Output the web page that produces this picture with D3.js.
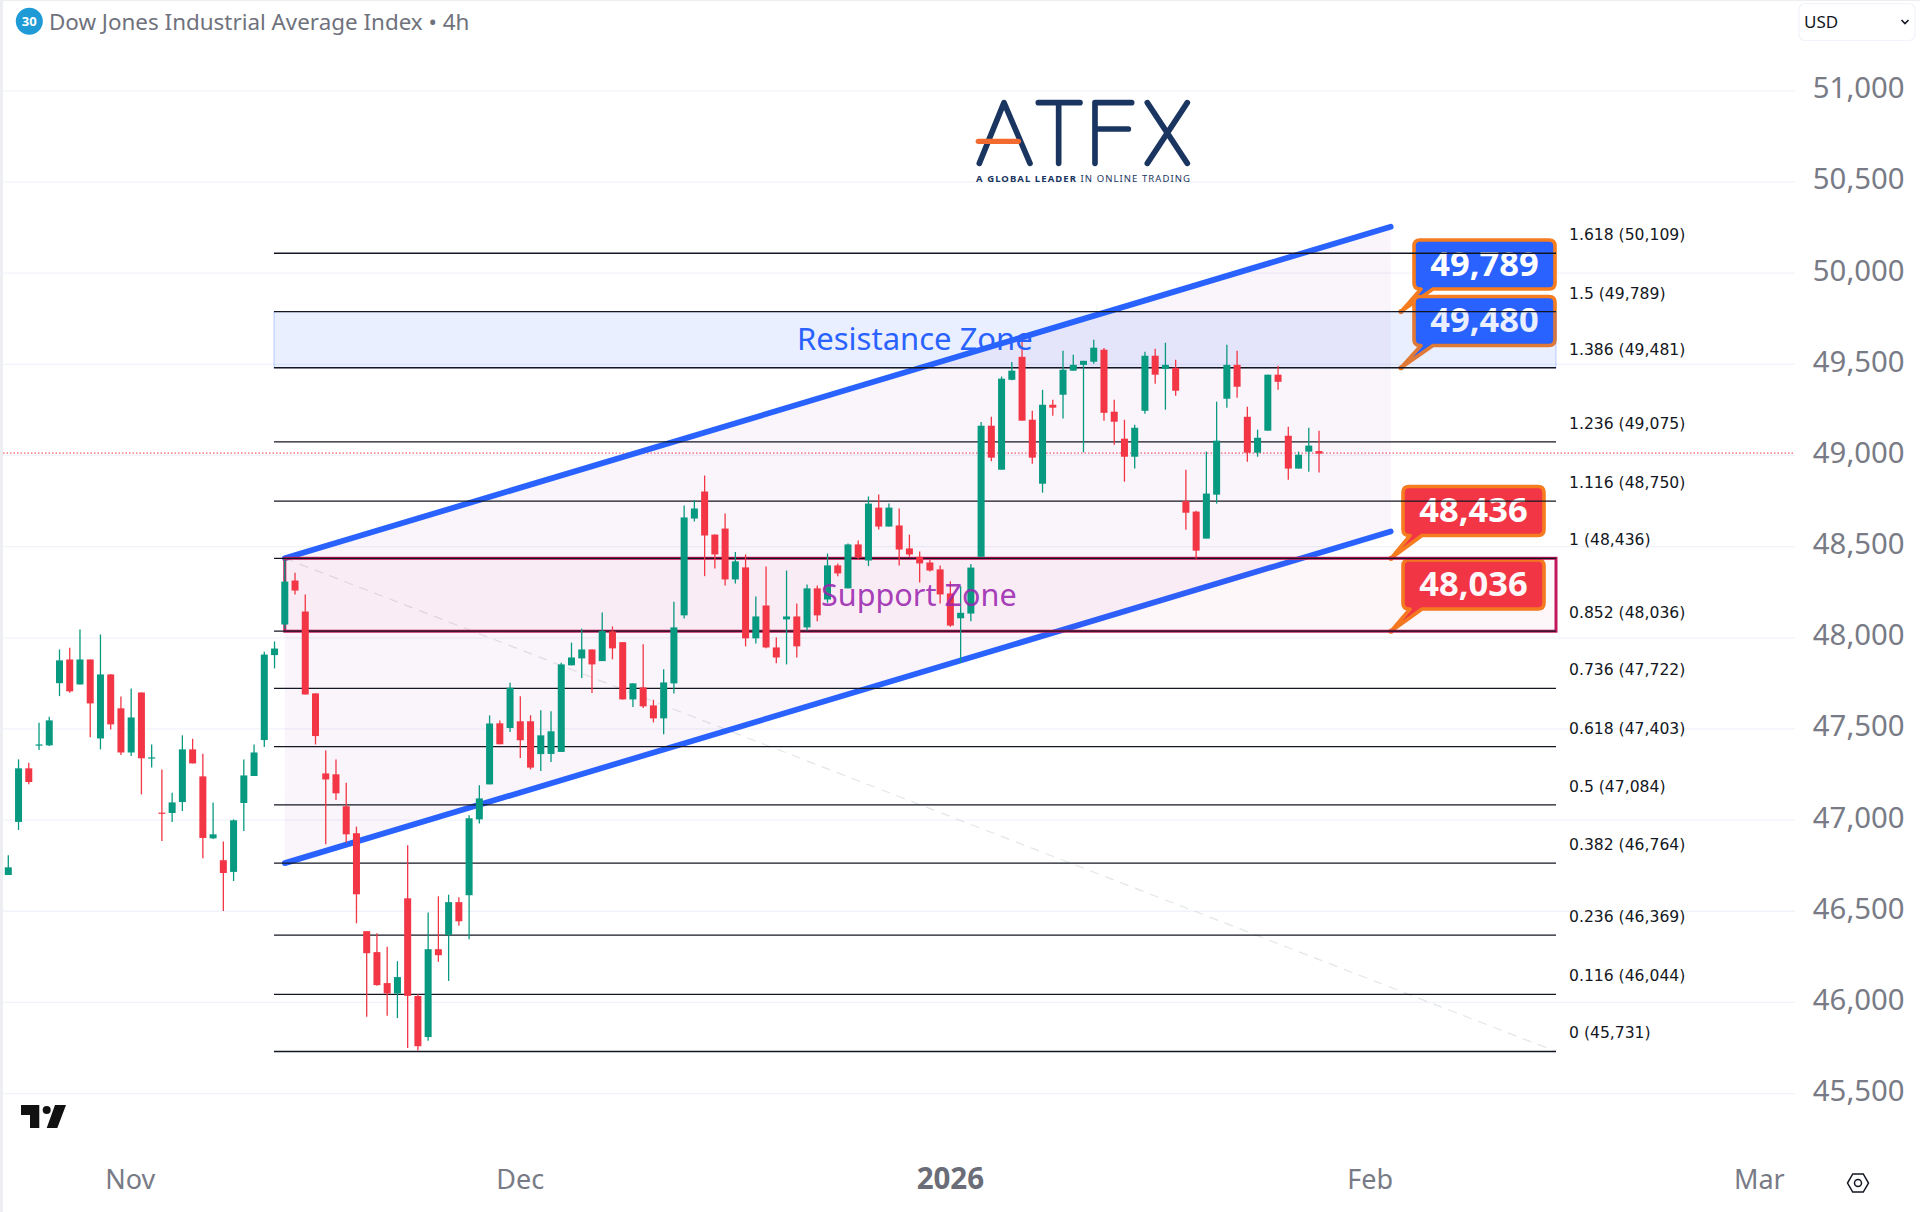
<!DOCTYPE html>
<html>
<head>
<meta charset="utf-8">
<title>Dow Jones Industrial Average Index</title>
<script src="https://cdn.jsdelivr.net/npm/d3@7"></script>
<style>
	html, body { margin: 0; padding: 0; background: #fff; }
	svg { display: block; }
	text { font-family: "Noto Sans", sans-serif; }
</style>
</head>
<body>
<div id="chart"></div>
<script>
var opens = [
	46699,46990,47284,47412,47410,47751,47881,47744,47881,47448,
	47799,47613,47371,47700,47340,47041,47039,47099,47388,47240,
	46900,46780,46716,47094,47242,47439,47905,48073,48314,48144,
	47695,47256,47251,47076,46928,46391,46276,46106,46049,46571,
	46035,45810,46292,46370,46550,46588,47004,47196,47531,47505,
	47542,47542,47362,47363,47374,47849,47887,47936,47872,48035,
	47976,47662,47728,47629,47558,47750,48123,48654,48802,48566,
	48599,48320,48386,47997,48177,47947,48101,48117,48057,48271,
	48210,48397,48271,48512,48424,48714,48610,48616,48490,48444,
	48413,48375,48243,48107,48133,48444,49163,48922,49415,49541,
	49196,48845,49278,49333,49465,49497,49514,49580,49240,49092,
	48993,49245,49547,49475,49481,48750,48692,48544,48785,49311,
	49497,49212,49015,49136,49443,49108,48928,49021,49024
];
var closes = [
	46741,47284,47209,47415,47547,47876,47706,47881,47640,47799,
	47525,47371,47563,47339,47344,47035,47097,47388,47311,46902,
	46922,46710,46999,47245,47371,47908,47941,48308,48259,47689,
	47461,47223,47147,46922,46593,46270,46095,46049,46139,46036,
	45760,46292,46259,46550,46445,47010,47119,47530,47416,47726,
	47438,47288,47465,47487,47854,47892,47936,47854,48037,47942,
	47662,47750,47624,47558,47755,48057,48660,48709,48561,48457,
	48320,48419,47997,48117,47947,47892,48117,47953,48271,48123,
	48397,48353,48512,48440,48736,48610,48714,48484,48457,48408,
	48369,48238,48067,48137,48385,49163,48988,49421,49465,49191,
	48988,49278,49262,49470,49497,49519,49591,49234,49185,48993,
	49152,49547,49443,49497,49355,48686,48478,48791,49081,49497,
	49377,49015,49097,49443,49404,48928,49004,49054,49010
];
var highs = [
	46807,47333,47315,47534,47567,47936,47945,48045,47881,48018,
	47802,47678,47722,47700,47415,47278,47150,47465,47446,47364,
	47097,46882,47004,47333,47415,47923,47980,48429,48356,48237,
	47695,47382,47333,47205,46964,46391,46380,46305,46226,46862,
	46045,46493,46582,46591,46577,47026,47191,47574,47547,47754,
	47679,47575,47602,47597,47863,47973,48050,47936,48139,48062,
	47976,47750,47964,47660,47827,48197,48725,48756,48890,48566,
	48682,48471,48457,48227,48391,48002,48369,48188,48292,48287,
	48462,48408,48517,48534,48775,48786,48736,48709,48566,48473,
	48429,48397,48310,48283,48405,49183,49212,49433,49512,49634,
	49245,49360,49306,49574,49552,49519,49634,49589,49306,49196,
	49169,49569,49585,49618,49525,48922,48697,49021,49295,49607,
	49574,49267,49141,49443,49492,49158,49021,49152,49136
];
var lows = [
	46699,46946,47196,47384,47406,47680,47698,47744,47455,47388,
	47497,47357,47351,47141,47289,46886,46990,47050,47311,46791,
	46897,46502,46666,46940,47242,47401,47832,48050,48237,47689,
	47415,46867,47110,46876,46434,45921,46091,45927,45914,45750,
	45737,45790,46223,46118,46420,46347,46982,47196,47416,47483,
	47341,47278,47269,47319,47374,47849,47779,47697,47872,47882,
	47662,47620,47615,47536,47471,47695,48106,48638,48338,48380,
	48287,48298,47953,47969,47942,47860,47854,47892,48040,48090,
	48192,48338,48271,48429,48393,48594,48610,48397,48444,48303,
	48364,48188,48060,47863,48091,48444,48968,48922,49412,49191,
	48955,48796,49218,49202,49465,49017,49503,49191,49059,48856,
	48928,49229,49393,49251,49328,48593,48434,48544,48736,49262,
	49317,48966,48993,49136,49360,48867,48928,48911,48906
];

var priceTicks = [45500,46000,46500,47000,47500,48000,48500,49000,49500,50000,50500,51000];
var monthLabels = ['Nov','Dec','2026','Feb','Mar'];
var monthBars = [11.9,50,92,133,171];

var fibRatios = ['0','0.116','0.236','0.382','0.5','0.618','0.736','0.852','1','1.116','1.236','1.386','1.5','1.618'];
var fibPrices = [45731,46044,46369,46764,47084,47403,47722,48036,48436,48750,49075,49481,49789,50109];

var calloutPrices = [49789,49481,48436,48036];
var calloutLabels = ['49,789','49,480','48,436','48,036'];

var channelBars = [27,135];
var channelUpper = [48436,50254];
var channelLower = [46764,48583];
var lastPrice = 49013;

var W = 1920, H = 1212;
var UP = '#089981', DOWN = '#f23645', BLUE = '#2962ff', ORANGE = '#f57c1f';
var GRID = '#f0f3fa', AXIS = '#787b86', INK = '#131722';
var FIB_LEFT = 274, RIGHT = 1556, GRID_RIGHT = 1795;

// fitted on two gridlines of the picture
var x = d3.scaleLinear().domain([0,100]).range([8.3,1032.3]);
var y = d3.scaleLinear().domain([45500,51000]).range([1093.6,90.8]);
var fmt = d3.format(',');

var svg = d3.select('#chart').append('svg').attr('width',W).attr('height',H).attr('viewBox','0 0 '+W+' '+H);
svg.append('rect').attr('width',W).attr('height',H).attr('fill','#fff');
svg.append('rect').attr('width',3).attr('height',H).attr('fill','#eceef1');
svg.append('rect').attr('width',W).attr('height',1).attr('fill','#eceef1');

drawGrid();
drawChannel();
drawCallouts();
drawZones();
drawFibs();
drawCandles();
drawZoneText();
drawHeader();
drawLogo();
drawTimeAxis();

function drawGrid() {
	svg.append('g').selectAll('line').data(priceTicks).enter().append('line')
		.attr('x1',3).attr('x2',GRID_RIGHT)
		.attr('y1',function(d) {return y(d)}).attr('y2',function(d) {return y(d)})
		.attr('stroke',GRID).attr('stroke-width',1.3);
	svg.append('g').selectAll('text').data(priceTicks).enter().append('text')
		.attr('x',1904.5).attr('y',function(d) {return y(d)+7.5})
		.attr('text-anchor','end').attr('font-size',29.3).attr('fill',AXIS)
		.text(function(d) {return fmt(d)});
	svg.append('line')
		.attr('x1',3).attr('x2',GRID_RIGHT).attr('y1',y(lastPrice)).attr('y2',y(lastPrice))
		.attr('stroke',DOWN).attr('stroke-width',1).attr('stroke-dasharray','1.5 2');
}

function drawChannel() {
	var area = d3.area()
		.x(function(d) {return x(d.bar)})
		.y0(function(d) {return y(d.low)})
		.y1(function(d) {return y(d.high)});
	var rows = channelBars.map(function(b,i) {
		return {bar:b, low:channelLower[i], high:channelUpper[i]};
	});
	svg.append('path').attr('d',area(rows)).attr('fill','#9c27b0').attr('fill-opacity',0.05);
	// fib trend line, faint dashes
	svg.append('line')
		.attr('x1',x(channelBars[0])).attr('y1',y(fibPrices[8]))
		.attr('x2',RIGHT).attr('y2',y(fibPrices[0]))
		.attr('stroke','#787b86').attr('stroke-opacity',0.2).attr('stroke-width',1.2)
		.attr('stroke-dasharray','9 7');
	[channelUpper,channelLower].forEach(function(vals) {
		svg.append('line')
			.attr('x1',x(channelBars[0])).attr('y1',y(vals[0]))
			.attr('x2',x(channelBars[1])).attr('y2',y(vals[1]))
			.attr('stroke',BLUE).attr('stroke-width',5.8).attr('stroke-linecap','round');
	});
}

function calloutPath(bx,by,w,h,tipX,tipY) {
	var r = 6;
	return 'M'+(bx+r)+','+by+'H'+(bx+w-r)+'Q'+(bx+w)+','+by+' '+(bx+w)+','+(by+r)
		+'V'+(by+h-r)+'Q'+(bx+w)+','+(by+h)+' '+(bx+w-r)+','+(by+h)
		+'H'+(bx+19)+'L'+tipX+','+tipY+'L'+(bx+7)+','+(by+h)
		+'H'+(bx+r)+'Q'+bx+','+(by+h)+' '+bx+','+(by+h-r)
		+'V'+(by+r)+'Q'+bx+','+by+' '+(bx+r)+','+by+'Z';
}

function drawCallouts() {
	var boxX = [1414,1414,1403,1403];
	var boxY = [240,296.5,486.5,560];
	var tipX = [1401,1401,1391,1391];
	var fills = [BLUE,BLUE,DOWN,DOWN];
	calloutPrices.forEach(function(p,i) {
		var g = svg.append('g');
		g.append('path').attr('d',calloutPath(boxX[i],boxY[i],141,49,tipX[i],y(p)))
			.attr('fill',fills[i]).attr('stroke',ORANGE).attr('stroke-width',3.6).attr('stroke-linejoin','round');
		g.append('circle').attr('cx',tipX[i]).attr('cy',y(p)).attr('r',2.6).attr('fill',ORANGE);
		g.append('text').attr('x',boxX[i]+70.5).attr('y',boxY[i]+35.5)
			.attr('text-anchor','middle').attr('font-size',34.5).attr('font-weight',700).attr('fill','#fff')
			.text(calloutLabels[i]);
	});
}

function drawZones() {
	// resistance 1.386 - 1.5, support 0.852 - 1
	svg.append('rect')
		.attr('x',FIB_LEFT).attr('width',RIGHT-FIB_LEFT)
		.attr('y',y(fibPrices[12])).attr('height',y(fibPrices[11])-y(fibPrices[12]))
		.attr('fill',BLUE).attr('fill-opacity',0.1)
		.attr('stroke',BLUE).attr('stroke-opacity',0.3).attr('stroke-width',1);
	svg.append('rect')
		.attr('x',x(channelBars[0])).attr('width',RIGHT-x(channelBars[0]))
		.attr('y',y(fibPrices[8])).attr('height',y(fibPrices[7])-y(fibPrices[8]))
		.attr('fill','#e91e63').attr('fill-opacity',0.035)
		.attr('stroke','#c2185b').attr('stroke-width',3);
}

function drawFibs() {
	var g = svg.append('g');
	g.selectAll('line').data(fibPrices).enter().append('line')
		.attr('x1',FIB_LEFT).attr('x2',RIGHT)
		.attr('y1',function(d) {return y(d)}).attr('y2',function(d) {return y(d)})
		.attr('stroke',INK).attr('stroke-width',1.3);
	g.selectAll('text').data(fibPrices).enter().append('text')
		.attr('x',1569).attr('y',function(d) {return y(d)-13})
		.style('font-family','"DejaVu Sans", sans-serif').attr('font-size',15.6).attr('fill',INK)
		.text(function(d,i) {return fibRatios[i]+' ('+fmt(d)+')'});
}

function drawCandles() {
	var g = svg.append('g');
	var bars = g.selectAll('g').data(d3.range(opens.length)).enter().append('g');
	function colour(i) { return closes[i] >= opens[i] ? UP : DOWN; }
	bars.append('line')
		.attr('x1',function(i) {return x(i)}).attr('x2',function(i) {return x(i)})
		.attr('y1',function(i) {return y(highs[i])}).attr('y2',function(i) {return y(lows[i])})
		.attr('stroke',colour).attr('stroke-width',1.3);
	bars.append('rect')
		.attr('x',function(i) {return x(i)-3.5}).attr('width',7)
		.attr('y',function(i) {return y(Math.max(opens[i],closes[i]))})
		.attr('height',function(i) {return Math.max(1.2,Math.abs(y(opens[i])-y(closes[i])))})
		.attr('fill',colour);
}

function drawZoneText() {
	svg.append('text').attr('x',797).attr('y',350).attr('font-size',31).attr('fill',BLUE)
		.text('Resistance Zone');
	svg.append('text').attr('x',821).attr('y',606).attr('font-size',30.6).attr('fill','#9c27b0').attr('fill-opacity',0.9)
		.text('Support Zone');
}

function drawHeader() {
	svg.append('circle').attr('cx',29.3).attr('cy',21.3).attr('r',13.5).attr('fill','#1e9bd7');
	svg.append('text').attr('x',29.3).attr('y',26).attr('text-anchor','middle')
		.attr('font-size',13).attr('font-weight',700).attr('fill','#fff').text('30');
	svg.append('text').attr('x',49).attr('y',30).attr('font-size',22.4).attr('fill','#6f727c')
		.text('Dow Jones Industrial Average Index \u2022 4h');
	svg.append('rect').attr('x',1799).attr('y',3.5).attr('width',116).attr('height',37).attr('rx',6)
		.attr('fill','#fff').attr('stroke',GRID).attr('stroke-width',1.2);
	svg.append('text').attr('x',1804).attr('y',28).attr('font-size',17).attr('fill',INK).text('USD');
	svg.append('path').attr('d','M1901.5,20l3.5,3.5l3.5,-3.5').attr('fill','none').attr('stroke',INK).attr('stroke-width',1.6);
}

function drawLogo() {
	var g = svg.append('g').attr('transform','translate(950,80) scale(0.3333)');
	var navy = '#1a3560';
	var d = 'M88,250L162,68L240,250M265,68H390M326,68V250M435,250V68H545M435,147H535M592,68L712,250M712,68L592,250';
	g.append('path').attr('d',d).attr('fill','none').attr('stroke',navy).attr('stroke-width',17)
		.attr('stroke-linecap','round').attr('stroke-linejoin','round');
	g.append('path').attr('d','M85,184H205').attr('stroke','#f26a2e').attr('stroke-width',16).attr('stroke-linecap','round');
	var t = svg.append('text').attr('x',976).attr('y',181.5).attr('font-size',9.5).attr('fill',navy)
		.attr('textLength',214).attr('lengthAdjust','spacing');
	t.append('tspan').attr('font-weight',700).text('A GLOBAL LEADER ');
	t.append('tspan').text('IN ONLINE TRADING');
}

function drawTimeAxis() {
	svg.append('g').selectAll('text').data(monthLabels).enter().append('text')
		.attr('x',function(d,i) {return x(monthBars[i])}).attr('y',1189)
		.attr('text-anchor','middle')
		.attr('font-size',function(d) {return d == '2026' ? 29.5 : 27})
		.attr('font-weight',function(d) {return d == '2026' ? 700 : 400})
		.attr('fill',function(d) {return d == '2026' ? '#6a6d78' : AXIS})
		.text(function(d) {return d});
	// tradingview mark
	svg.append('path').attr('d','M21,1105H39.3V1128H30V1115H21ZM55,1105H66L57.3,1128H46.7Z').attr('fill','#111');
	svg.append('circle').attr('cx',46.7).attr('cy',1110).attr('r',4).attr('fill','#111');
	// settings button
	var hex = d3.range(6).map(function(i) {
		var a = i*Math.PI/3;
		return [1858+10.5*Math.cos(a),1183+10.5*Math.sin(a)];
	});
	svg.append('path').attr('d',d3.line()(hex)+'Z').attr('fill','none').attr('stroke',INK).attr('stroke-width',1.5);
	svg.append('circle').attr('cx',1858).attr('cy',1183).attr('r',3.5).attr('fill','none').attr('stroke',INK).attr('stroke-width',1.5);
}
</script>
</body>
</html>
